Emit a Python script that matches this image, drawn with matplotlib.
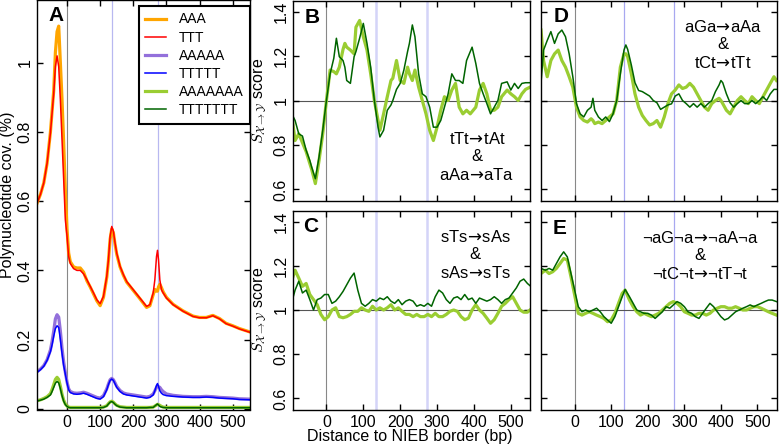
import matplotlib
matplotlib.use("Agg")
import matplotlib.pyplot as plt
from matplotlib.ticker import FuncFormatter

plt.rcParams['font.family'] = ['Liberation Sans', 'DejaVu Sans']
plt.rcParams['mathtext.fontset'] = 'custom'
plt.rcParams['mathtext.rm'] = 'Liberation Sans'
plt.rcParams['mathtext.it'] = 'Liberation Sans:italic'

# ---- panel A: polynucleotide coverage (%) ----
xa = [-92, -80, -70, -60, -50, -45, -40, -35, -30, -25, -20, -15, -10, -5, 0, 5, 10,
      20, 30, 40, 50, 60, 70, 80, 90, 100, 110, 120, 125, 130, 135, 140, 145, 150,
      160, 170, 180, 200, 220, 240, 250, 260, 265, 270, 273, 276, 280, 285, 290,
      300, 320, 350, 380, 400, 420, 440, 460, 480, 500, 520, 552]
aaa = [0.59, 0.62, 0.653, 0.71, 0.80, 0.86, 0.92, 1.03, 1.09, 1.106, 1.00, 0.893, 0.768, 0.633, 0.52, 0.45, 0.425,
       0.41, 0.407, 0.407, 0.395, 0.37, 0.352, 0.332, 0.312, 0.298, 0.322, 0.38, 0.428, 0.49, 0.52, 0.508, 0.475, 0.447,
       0.41, 0.386, 0.366, 0.342, 0.318, 0.293, 0.298, 0.33, 0.345, 0.34, 0.34, 0.352, 0.36, 0.35, 0.338,
       0.322, 0.302, 0.283, 0.268, 0.264, 0.264, 0.27, 0.261, 0.247, 0.24, 0.232, 0.222]
ttt = [0.59, 0.62, 0.653, 0.71, 0.797, 0.855, 0.912, 0.989, 1.02, 0.989, 0.893, 0.777, 0.662, 0.546, 0.50, 0.44, 0.42,
       0.405, 0.40, 0.40, 0.39, 0.373, 0.354, 0.335, 0.315, 0.304, 0.325, 0.383, 0.431, 0.498, 0.527, 0.513, 0.479, 0.45,
       0.412, 0.388, 0.368, 0.344, 0.32, 0.296, 0.301, 0.335, 0.373, 0.44, 0.458, 0.431, 0.373, 0.344, 0.335,
       0.32, 0.301, 0.282, 0.267, 0.263, 0.263, 0.269, 0.26, 0.246, 0.239, 0.231, 0.221]
a5 = [0.106, 0.115, 0.125, 0.142, 0.17, 0.195, 0.225, 0.26, 0.272, 0.265, 0.225, 0.175, 0.135, 0.105, 0.078, 0.058, 0.05,
      0.046, 0.045, 0.046, 0.048, 0.045, 0.041, 0.037, 0.033, 0.031, 0.038, 0.058, 0.072, 0.084, 0.088, 0.084, 0.075, 0.065,
      0.053, 0.046, 0.043, 0.04, 0.037, 0.034, 0.036, 0.043, 0.052, 0.062, 0.066, 0.064, 0.062, 0.055, 0.05,
      0.043, 0.039, 0.036, 0.035, 0.035, 0.036, 0.035, 0.033, 0.032, 0.031, 0.029, 0.028]
t5 = [0.104, 0.113, 0.123, 0.14, 0.165, 0.185, 0.21, 0.232, 0.24, 0.235, 0.2, 0.16, 0.125, 0.10, 0.075, 0.055, 0.047,
      0.043, 0.042, 0.043, 0.045, 0.042, 0.038, 0.034, 0.03, 0.028, 0.035, 0.055, 0.07, 0.082, 0.086, 0.082, 0.072, 0.062,
      0.05, 0.043, 0.04, 0.037, 0.034, 0.031, 0.033, 0.04, 0.052, 0.068, 0.073, 0.065, 0.052, 0.045, 0.041,
      0.038, 0.036, 0.034, 0.033, 0.033, 0.034, 0.033, 0.031, 0.03, 0.029, 0.027, 0.026]
a7 = [0.023, 0.026, 0.03, 0.035, 0.044, 0.056, 0.07, 0.085, 0.091, 0.085, 0.065, 0.042, 0.025, 0.014, 0.008, 0.005, 0.004,
      0.004, 0.004, 0.004, 0.004, 0.004, 0.004, 0.004, 0.004, 0.004, 0.005, 0.009, 0.015, 0.02, 0.022, 0.019, 0.014, 0.01,
      0.006, 0.005, 0.004, 0.004, 0.004, 0.004, 0.004, 0.005, 0.008, 0.011, 0.013, 0.012, 0.01, 0.007, 0.005,
      0.004, 0.004, 0.004, 0.004, 0.004, 0.004, 0.004, 0.004, 0.004, 0.004, 0.004, 0.004]
t7 = [0.022, 0.025, 0.028, 0.033, 0.04, 0.05, 0.062, 0.074, 0.079, 0.075, 0.058, 0.038, 0.022, 0.012, 0.007, 0.004, 0.003,
      0.003, 0.003, 0.003, 0.003, 0.003, 0.003, 0.003, 0.003, 0.003, 0.004, 0.008, 0.014, 0.019, 0.021, 0.018, 0.013, 0.009,
      0.005, 0.004, 0.003, 0.003, 0.003, 0.003, 0.004, 0.004, 0.008, 0.012, 0.014, 0.011, 0.007, 0.005, 0.004,
      0.003, 0.003, 0.003, 0.003, 0.003, 0.003, 0.003, 0.003, 0.003, 0.003, 0.003, 0.003]
legend_labels = ['AAA', 'TTT', 'AAAAA', 'TTTTT', 'AAAAAAA', 'TTTTTTT']

# ---- panel B: tTt->tAt & aAa->aTa ----
xb = [-92, -85, -75, -65, -55, -45, -40, -30, -20, -10, 0, 10, 20, 27, 35, 45, 50, 55, 65, 75,
      80, 90, 100, 110, 120, 130, 140, 145, 155, 165, 175, 180, 190, 200, 210, 220, 225, 233,
      240, 250, 260, 270, 280, 290, 300, 310, 320, 330, 340, 350, 360, 370, 380, 390, 395,
      405, 415, 425, 435, 445, 455, 465, 475, 490, 500, 510, 520, 530, 540, 552]
b_dark = [0.934, 0.91, 0.85, 0.84, 0.776, 0.73, 0.70, 0.648, 0.746, 0.866, 1.0, 1.12, 1.19, 1.28, 1.197, 1.18, 1.15, 1.09, 1.077, 1.197,
          1.22, 1.28, 1.347, 1.257, 1.15, 1.0, 0.88, 0.836, 0.866, 0.956, 0.98, 1.0, 1.05, 1.077, 1.137, 1.22, 1.257, 1.34,
          1.287, 1.12, 1.03, 1.017, 0.97, 0.88, 0.88, 0.91, 0.97, 1.03, 1.12, 1.09, 1.09, 1.077, 1.18, 1.22, 1.24,
          1.167, 1.077, 1.03, 0.986, 0.94, 0.97, 1.0, 1.077, 1.084, 1.047, 1.077, 1.054, 1.077, 1.08, 1.08]
b_light = [0.91, 0.82, 0.85, 0.81, 0.77, 0.716, 0.69, 0.626, 0.73, 0.85, 1.0, 1.137, 1.13, 1.12, 1.15, 1.23, 1.257, 1.24, 1.227, 1.21,
           1.33, 1.36, 1.287, 1.227, 1.12, 1.0, 0.91, 0.866, 0.94, 1.017, 1.09, 1.1, 1.18, 1.09, 1.077, 1.15, 1.12, 1.09,
           1.137, 1.06, 1.0, 0.94, 0.866, 0.82, 0.88, 0.956, 1.017, 1.0, 1.047, 1.077, 0.97, 0.94, 0.956, 0.94, 0.95,
           0.97, 1.047, 1.077, 1.03, 0.956, 0.956, 0.97, 1.017, 1.047, 1.03, 1.017, 1.0, 1.03, 1.05, 1.06]

# ---- panel C: sTs->sAs & sAs->sTs ----
xc = [-92, -85, -75, -65, -55, -45, -35, -25, -15, -5, 5, 15, 25, 35, 45, 55, 65, 75, 85, 95,
      105, 115, 125, 135, 145, 155, 165, 175, 185, 195, 205, 215, 225, 235, 245, 255, 265,
      275, 285, 295, 305, 315, 325, 335, 345, 355, 365, 375, 385, 395, 405, 415, 425, 435,
      445, 455, 465, 475, 485, 495, 505, 515, 525, 535, 545, 552]
c_dark = [1.047, 1.09, 1.13, 1.077, 1.09, 1.047, 1.0, 1.047, 1.054, 1.07, 1.07, 1.03, 1.04, 1.06, 1.084, 1.114, 1.144, 1.167, 1.09, 1.03,
          1.017, 1.03, 1.047, 1.04, 1.054, 1.047, 1.06, 1.04, 1.03, 1.047, 1.024, 1.04, 1.047, 1.04, 1.017, 1.024, 1.017,
          1.03, 1.017, 1.06, 1.09, 1.077, 1.047, 1.03, 1.054, 1.06, 1.047, 1.07, 1.047, 1.054, 1.03, 1.054, 1.047, 1.04,
          1.047, 1.06, 1.047, 1.03, 1.047, 1.054, 1.077, 1.10, 1.13, 1.14, 1.12, 1.11]
c_light = [1.144, 1.18, 1.144, 1.107, 1.12, 1.07, 1.047, 1.024, 0.98, 0.956, 0.97, 1.0, 1.01, 0.97, 0.965, 0.97, 0.98, 0.994, 0.994, 1.01,
           1.0, 0.994, 1.017, 1.0, 1.01, 1.0, 1.01, 1.024, 1.0, 1.01, 0.994, 0.98, 0.98, 0.97, 0.98, 0.97, 0.97,
           0.98, 0.97, 0.985, 0.97, 0.97, 0.98, 0.994, 1.0, 0.994, 0.97, 0.956, 0.963, 1.0, 1.024, 1.0, 0.985, 0.963,
           0.94, 0.956, 0.985, 1.017, 1.03, 1.047, 1.06, 1.03, 1.0, 0.99, 0.99, 1.0]

# ---- panel D: aGa->aAa & tCt->tTt ----
xd = [-92, -85, -75, -65, -55, -45, -35, -25, -15, -5, 5, 15, 25, 35, 45, 50, 55, 65, 75, 85,
      95, 105, 115, 125, 135, 140, 145, 155, 165, 175, 185, 195, 205, 215, 225, 235, 245,
      255, 265, 275, 285, 295, 305, 315, 325, 335, 345, 355, 365, 375, 385, 395, 400, 405,
      415, 425, 435, 445, 455, 465, 475, 485, 495, 505, 515, 525, 535, 545, 552]
d_dark = [1.077, 1.227, 1.27, 1.31, 1.257, 1.30, 1.317, 1.287, 1.21, 1.107, 0.986, 0.94, 0.926, 0.956, 0.97, 1.01, 0.956, 0.926, 0.91, 0.926,
          0.905, 0.94, 1.0, 1.12, 1.227, 1.25, 1.23, 1.16, 1.08, 1.045, 1.04, 1.03, 1.02, 1.0, 0.99, 0.96, 0.97,
          0.98, 0.985, 1.02, 1.03, 1.0, 0.986, 0.97, 0.986, 0.97, 0.986, 0.97, 0.986, 1.0, 1.04, 1.07, 1.09, 1.08,
          1.03, 0.99, 0.97, 0.986, 1.0, 0.986, 0.986, 1.0, 0.986, 1.0, 1.017, 1.0, 1.03, 1.05, 1.05]
d_light = [1.317, 1.18, 1.107, 1.18, 1.21, 1.227, 1.18, 1.15, 1.107, 1.06, 0.97, 0.926, 0.91, 0.903, 0.918, 0.91, 0.896, 0.903, 0.896, 0.91,
           0.926, 0.94, 1.0, 1.15, 1.21, 1.21, 1.197, 1.12, 1.03, 0.97, 0.933, 0.91, 0.89, 0.896, 0.91, 0.88, 0.926,
           0.986, 1.03, 1.047, 1.07, 1.054, 1.06, 1.077, 1.06, 1.03, 1.0, 0.97, 0.956, 0.986, 1.0, 1.01, 1.0, 0.986,
           0.956, 0.94, 0.97, 1.0, 1.017, 1.0, 0.986, 1.017, 1.0, 0.986, 1.017, 1.047, 1.077, 1.107, 1.09]

# ---- panel E: ¬aG¬a->¬aA¬a & ¬tC¬t->¬tT¬t ----
xe = [-92, -80, -70, -60, -50, -40, -30, -20, -10, 0, 10, 20, 30, 40, 50, 60, 70, 80, 90, 100,
      110, 120, 130, 138, 150, 160, 170, 180, 190, 200, 210, 220, 230, 240, 250, 260, 270,
      280, 290, 300, 310, 320, 330, 340, 350, 360, 370, 380, 390, 400, 410, 420, 430, 440,
      450, 460, 470, 480, 490, 500, 510, 520, 530, 540, 552]
e_dark = [1.188, 1.18, 1.188, 1.18, 1.21, 1.24, 1.263, 1.24, 1.165, 1.09, 1.015, 0.992, 1.0, 0.992, 1.0, 1.008, 0.992, 0.97, 0.955, 0.94,
          0.97, 1.015, 1.06, 1.093, 1.06, 1.03, 1.0, 0.992, 0.985, 0.985, 0.977, 0.962, 0.977, 0.992, 1.015, 1.008, 1.023,
          1.038, 1.03, 1.015, 0.992, 0.985, 0.97, 0.962, 0.985, 1.008, 1.03, 1.015, 0.992, 0.97, 0.955, 0.962, 0.977, 0.992,
          1.0, 1.008, 1.015, 1.023, 1.015, 1.023, 1.03, 1.038, 1.045, 1.045, 1.038]
e_light = [1.165, 1.18, 1.165, 1.173, 1.188, 1.21, 1.233, 1.226, 1.15, 1.068, 0.985, 0.977, 0.985, 0.992, 0.985, 0.977, 0.97, 0.962, 0.947, 0.955,
           0.985, 1.03, 1.075, 1.09, 1.045, 1.015, 0.992, 0.977, 0.985, 0.977, 0.97, 0.977, 0.985, 1.0, 1.015, 1.03, 1.038,
           1.03, 1.015, 0.992, 0.985, 0.977, 0.977, 0.985, 0.985, 0.977, 0.985, 1.0, 1.008, 1.015, 1.015, 1.008, 1.008, 1.015,
           1.008, 1.0, 1.0, 1.008, 1.015, 1.015, 1.008, 1.0, 0.992, 0.985, 0.977]

W, H = 779, 447
fig = plt.figure(figsize=(W / 100, H / 100), dpi=100)


def box(l, t, r, b):
    return [l / W, 1 - b / H, (r - l) / W, (b - t) / H]


axA = fig.add_axes(box(36.5, 0.5, 250, 409.5))
axB = fig.add_axes(box(292.5, 0.5, 530, 200.5))
axC = fig.add_axes(box(292.5, 210.5, 530, 409.5))
axD = fig.add_axes(box(541, 0.5, 776.5, 200.5))
axE = fig.add_axes(box(541, 210.5, 776.5, 409.5))

fmt = FuncFormatter(lambda v, p: f'{v:g}')
xlim = (-92, 552)
xt = [0, 100, 200, 300, 400, 500]


def style(ax, yt, show_x, show_y):
    ax.set_xlim(*xlim)
    ax.set_xticks(xt)
    ax.set_yticks(yt)
    ax.yaxis.set_major_formatter(fmt)
    ax.tick_params(direction='in', top=True, right=True, length=4, width=1,
                   labelsize=11.5, pad=3)
    ax.tick_params(axis='x', labelbottom=show_x, pad=4)
    ax.tick_params(axis='y', labelleft=show_y, labelrotation=90)
    for lab in ax.get_yticklabels():
        lab.set_va('center')
    for s in ax.spines.values():
        s.set_linewidth(1.0)


# panel A
axA.axvline(0, color='#888888', lw=0.8, zorder=0)
for v in (135, 273):
    axA.axvline(v, color='#b8b8f0', lw=0.9, zorder=0)
axA.plot(xa, aaa, color='#FFA500', lw=2.3, label=legend_labels[0])
axA.plot(xa, ttt, color='#FF0000', lw=1.1, label=legend_labels[1])
axA.plot(xa, a5, color='#9370DB', lw=2.3, label=legend_labels[2])
axA.plot(xa, t5, color='#0000FF', lw=1.1, label=legend_labels[3])
axA.plot(xa, a7, color='#9ACD32', lw=2.3, label=legend_labels[4])
axA.plot(xa, t7, color='#006400', lw=1.1, label=legend_labels[5])
axA.set_ylim(-0.002, 1.18)
style(axA, [0, 0.2, 0.4, 0.6, 0.8, 1.0], True, True)
leg = axA.legend(loc='upper right', bbox_to_anchor=(1.0, 0.986), fontsize=10,
                 fancybox=False, edgecolor='black', framealpha=1,
                 handlelength=1.5, handletextpad=0.95, borderpad=0.45,
                 labelspacing=0.3, borderaxespad=0.0)
leg.get_frame().set_linewidth(1.5)

# panels B-E
panels = [(axB, xb, b_dark, b_light, False, True, '#d4d4f8', 1.8),
          (axC, xc, c_dark, c_light, True, True, '#d4d4f8', 1.8),
          (axD, xd, d_dark, d_light, False, False, '#a8a8f0', 0.9),
          (axE, xe, e_dark, e_light, True, False, '#a8a8f0', 0.9)]
for ax, xs, dark, light, sx, sy, vc, vw in panels:
    ax.axvline(0, color='#888888', lw=0.8, zorder=0)
    for v in (135, 273):
        ax.axvline(v, color=vc, lw=vw, zorder=0)
    ax.axhline(1, color='#555555', lw=0.8, zorder=0)
    ax.plot(xs, light, color='#9ACD32', lw=2.3)
    ax.plot(xs, dark, color='#006400', lw=1.1)
    ax.set_ylim(0.55, 1.45)
    style(ax, [0.6, 0.8, 1.0, 1.2, 1.4], sx, sy)

for ax in (axB, axC):
    ax.set_ylabel(r'$S_{\mathcal{X}\rightarrow\mathcal{Y}}$ score', fontsize=11.5,
                  labelpad=3, math_fontfamily='cm')

fig.text(8 / W, 1 - 195 / H, 'Polynucleotide cov. (%)', rotation=90,
         ha='center', va='center', fontsize=11.5)
fig.text(410 / W, 1 - 437 / H, 'Distance to NIEB border (bp)',
         ha='center', va='center', fontsize=11.5)

letters = [('A', 56.5, 15.5), ('B', 312.5, 17.5), ('C', 311, 227),
           ('D', 561, 17), ('E', 560, 228)]
for t, px, py in letters:
    fig.text(px / W, 1 - py / H, t, ha='center', va='center',
             fontsize=15, fontweight='bold')

arr = r'$\!\rightarrow\!$'
notes = [(f'tTt{arr}tAt\n&\naAa{arr}aTa', 477, 157),
         (f'sTs{arr}sAs\n&\nsAs{arr}sTs', 475, 255),
         (f'aGa{arr}aAa\n&\ntCt{arr}tTt', 723, 45),
         (f'\u00acaG\u00aca{arr}\u00acaA\u00aca\n&\n\u00actC\u00act{arr}\u00actT\u00act', 700, 256)]
for t, px, py in notes:
    fig.text(px / W, 1 - py / H, t, ha='center', va='center',
             fontsize=12, linespacing=1.2, math_fontfamily='dejavusans')

fig.savefig('out.png', dpi=100, facecolor='white')
plt.close(fig)
